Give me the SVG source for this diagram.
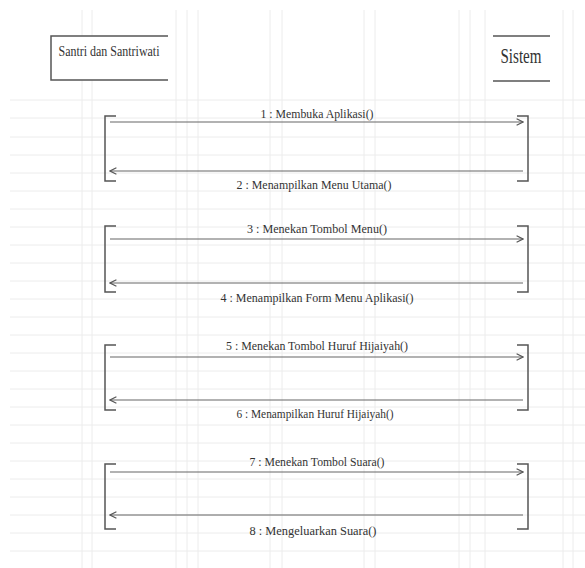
<svg xmlns="http://www.w3.org/2000/svg" width="585" height="568" viewBox="0 0 585 568">
<style>
.grid line{stroke:#ececec;stroke-width:1}
.edge{fill:none;stroke:#555;stroke-width:1.5}
.act{fill:none;stroke:#555;stroke-width:1.5}
.msg{fill:none;stroke:#666;stroke-width:1.2}
.lbl{font-family:"Liberation Serif",serif;font-size:13px;fill:#333;text-anchor:middle}
.name{font-family:"Liberation Serif",serif;fill:#333;text-anchor:middle}
</style>
<defs>
<marker id="ah" viewBox="0 0 10 10" refX="9" refY="5" markerWidth="8" markerHeight="8" orient="auto-start-reverse" markerUnits="userSpaceOnUse">
<path d="M1,1 L9,5 L1,9" fill="none" stroke="#555" stroke-width="1.4"/>
</marker>
</defs>
<rect width="585" height="568" fill="#fff"/>
<g class="grid">
<line x1="10" y1="100" x2="585" y2="100"/>
<line x1="10" y1="118" x2="585" y2="118"/>
<line x1="10" y1="137" x2="585" y2="137"/>
<line x1="10" y1="155" x2="585" y2="155"/>
<line x1="10" y1="173" x2="585" y2="173"/>
<line x1="10" y1="191" x2="585" y2="191"/>
<line x1="10" y1="209" x2="585" y2="209"/>
<line x1="10" y1="227" x2="585" y2="227"/>
<line x1="10" y1="245" x2="585" y2="245"/>
<line x1="10" y1="263" x2="585" y2="263"/>
<line x1="10" y1="281" x2="585" y2="281"/>
<line x1="10" y1="299" x2="585" y2="299"/>
<line x1="10" y1="317" x2="585" y2="317"/>
<line x1="10" y1="335" x2="585" y2="335"/>
<line x1="10" y1="353" x2="585" y2="353"/>
<line x1="10" y1="371" x2="585" y2="371"/>
<line x1="10" y1="389" x2="585" y2="389"/>
<line x1="10" y1="407" x2="585" y2="407"/>
<line x1="10" y1="425" x2="585" y2="425"/>
<line x1="10" y1="443" x2="585" y2="443"/>
<line x1="10" y1="461" x2="585" y2="461"/>
<line x1="10" y1="479" x2="585" y2="479"/>
<line x1="10" y1="497" x2="585" y2="497"/>
<line x1="10" y1="515" x2="585" y2="515"/>
<line x1="10" y1="533" x2="585" y2="533"/>
<line x1="10" y1="551" x2="585" y2="551"/>
<line x1="82" y1="10" x2="82" y2="568"/>
<line x1="92" y1="10" x2="92" y2="568"/>
<line x1="176" y1="10" x2="176" y2="568"/>
<line x1="187" y1="10" x2="187" y2="568"/>
<line x1="198" y1="10" x2="198" y2="568"/>
<line x1="270" y1="10" x2="270" y2="568"/>
<line x1="282" y1="10" x2="282" y2="568"/>
<line x1="364" y1="10" x2="364" y2="568"/>
<line x1="375" y1="10" x2="375" y2="568"/>
<line x1="459" y1="10" x2="459" y2="568"/>
<line x1="470" y1="10" x2="470" y2="568"/>
<line x1="485" y1="10" x2="485" y2="568"/>
<line x1="563" y1="10" x2="563" y2="568"/>
<line x1="573" y1="10" x2="573" y2="568"/>
</g>
<g id="actor-santri">
<rect x="51" y="36" width="117" height="44" fill="#fff" stroke="none"/>
<path class="edge" d="M168,36 H51 V80 H168"/>
<text class="name" x="109" y="56" font-size="15" textLength="101" lengthAdjust="spacingAndGlyphs">Santri dan Santriwati</text>
</g>
<g id="actor-sistem">
<rect x="493" y="36" width="57" height="45" fill="#fff" stroke="none"/>
<path class="edge" d="M493,36 H550 M493,81 H550"/>
<text class="name" x="521" y="63" font-size="21" textLength="41" lengthAdjust="spacingAndGlyphs">Sistem</text>
</g>
<g id="activations">
<path class="act" d="M116,116 H105 V181 H116"/>
<path class="act" d="M517,116 H528 V181 H517"/>
<path class="act" d="M116,226 H105 V292 H116"/>
<path class="act" d="M517,226 H528 V292 H517"/>
<path class="act" d="M116,345 H105 V410 H116"/>
<path class="act" d="M517,345 H528 V410 H517"/>
<path class="act" d="M116,464 H105 V529 H116"/>
<path class="act" d="M517,464 H528 V529 H517"/>
</g>
<g id="connectors">
<line class="msg" x1="110" y1="122" x2="523" y2="122" marker-end="url(#ah)"/>
<line class="msg" x1="523" y1="171" x2="110" y2="171" marker-end="url(#ah)"/>
<line class="msg" x1="110" y1="239" x2="523" y2="239" marker-end="url(#ah)"/>
<line class="msg" x1="523" y1="283" x2="110" y2="283" marker-end="url(#ah)"/>
<line class="msg" x1="110" y1="357" x2="523" y2="357" marker-end="url(#ah)"/>
<line class="msg" x1="523" y1="400" x2="110" y2="400" marker-end="url(#ah)"/>
<line class="msg" x1="110" y1="472" x2="523" y2="472" marker-end="url(#ah)" stroke-width="2"/>
<line class="msg" x1="523" y1="515" x2="110" y2="515" marker-end="url(#ah)"/>
</g>
<g id="labels">
<text class="lbl" x="317" y="118" textLength="113" lengthAdjust="spacingAndGlyphs">1 : Membuka Aplikasi()</text>
<text class="lbl" x="314" y="189" textLength="155" lengthAdjust="spacingAndGlyphs">2 : Menampilkan Menu Utama()</text>
<text class="lbl" x="317" y="233" textLength="140" lengthAdjust="spacingAndGlyphs">3 : Menekan Tombol Menu()</text>
<text class="lbl" x="317" y="302" textLength="193" lengthAdjust="spacingAndGlyphs">4 : Menampilkan Form Menu Aplikasi()</text>
<text class="lbl" x="317" y="350" textLength="182" lengthAdjust="spacingAndGlyphs">5 : Menekan Tombol Huruf Hijaiyah()</text>
<text class="lbl" x="315" y="418" textLength="157" lengthAdjust="spacingAndGlyphs">6 : Menampilkan Huruf Hijaiyah()</text>
<text class="lbl" x="317" y="466" textLength="135" lengthAdjust="spacingAndGlyphs">7 : Menekan Tombol Suara()</text>
<text class="lbl" x="313" y="535" textLength="127" lengthAdjust="spacingAndGlyphs">8 : Mengeluarkan Suara()</text>
</g>
</svg>
